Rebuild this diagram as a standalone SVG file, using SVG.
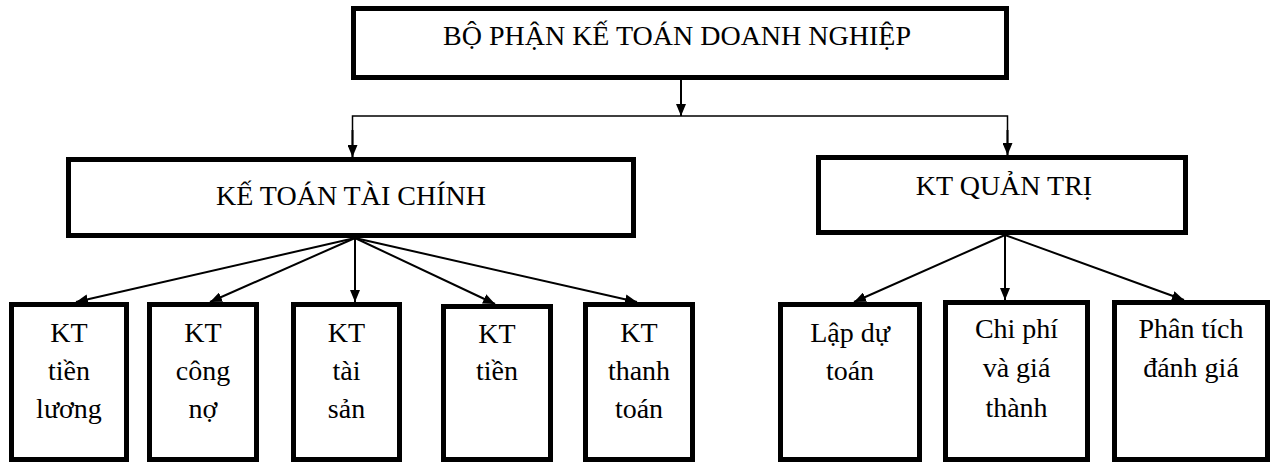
<svg xmlns="http://www.w3.org/2000/svg" width="1274" height="464" viewBox="0 0 1274 464">
<defs>
<style>
.box{fill:#fff;stroke:#000;stroke-width:5}
.t{font-family:"Liberation Serif","Times New Roman",serif;font-size:28px;fill:#000;text-anchor:middle}
.c{fill:none;stroke:#000;stroke-width:2}
.h{fill:none;stroke:#000;stroke-width:1.5}
</style>
<marker id="ah" viewBox="0 0 12 10" refX="12" refY="5" markerWidth="12" markerHeight="10" markerUnits="userSpaceOnUse" orient="auto">
<path d="M0,0 L12,5 L0,10 z" fill="#000"/>
</marker>
</defs>
<rect width="1274" height="464" fill="#fff"/>
<g id="connectors">
<line class="c" x1="681" y1="80" x2="681" y2="116" marker-end="url(#ah)"/>
<polyline class="h" points="352.5,157 352.5,116 1007.5,116 1007.5,155"/>
<line class="c" x1="352.5" y1="130" x2="352.5" y2="157" marker-end="url(#ah)"/>
<line class="c" x1="1007.5" y1="130" x2="1007.5" y2="155" marker-end="url(#ah)"/>
<line class="c" x1="355" y1="238" x2="76" y2="302" marker-end="url(#ah)"/>
<line class="c" x1="355" y1="238" x2="210" y2="302" marker-end="url(#ah)"/>
<line class="c" x1="355" y1="238" x2="355" y2="302" marker-end="url(#ah)"/>
<line class="c" x1="355" y1="238" x2="495" y2="304" marker-end="url(#ah)"/>
<line class="c" x1="355" y1="238" x2="637" y2="302" marker-end="url(#ah)"/>
<line class="c" x1="1005" y1="235" x2="854" y2="302" marker-end="url(#ah)"/>
<line class="c" x1="1005" y1="235" x2="1005" y2="300" marker-end="url(#ah)"/>
<line class="c" x1="1005" y1="235" x2="1184" y2="300" marker-end="url(#ah)"/>
</g>
<g id="n-top">
<rect class="box" x="353.5" y="8.5" width="653" height="69"/>
<text class="t" x="677" y="45">BỘ PHẬN KẾ TOÁN DOANH NGHIỆP</text>
</g>
<g id="n-kttc">
<rect class="box" x="68.5" y="159.5" width="565" height="76"/>
<text class="t" x="351" y="205">KẾ TOÁN TÀI CHÍNH</text>
</g>
<g id="n-ktqt">
<rect class="box" x="818.5" y="157.5" width="367" height="75"/>
<text class="t" x="1004" y="195">KT QUẢN TRỊ</text>
</g>
<g id="n-luong">
<rect class="box" x="11.5" y="304.5" width="115" height="155"/>
<text class="t" x="69" y="342">KT</text>
<text class="t" x="69" y="380">tiền</text>
<text class="t" x="69" y="418">lương</text>
</g>
<g id="n-congno">
<rect class="box" x="149.5" y="304.5" width="107" height="155"/>
<text class="t" x="203" y="342">KT</text>
<text class="t" x="203" y="380">công</text>
<text class="t" x="203" y="418">nợ</text>
</g>
<g id="n-taisan">
<rect class="box" x="293.5" y="304.5" width="106" height="155"/>
<text class="t" x="346.5" y="342">KT</text>
<text class="t" x="346.5" y="380">tài</text>
<text class="t" x="346.5" y="418">sản</text>
</g>
<g id="n-tien">
<rect class="box" x="443.5" y="306.5" width="107" height="153"/>
<text class="t" x="497" y="343">KT</text>
<text class="t" x="497" y="380">tiền</text>
</g>
<g id="n-thanhtoan">
<rect class="box" x="585.5" y="304.5" width="107" height="155"/>
<text class="t" x="639" y="342">KT</text>
<text class="t" x="639" y="380">thanh</text>
<text class="t" x="639" y="418">toán</text>
</g>
<g id="n-lapdutoan">
<rect class="box" x="780.5" y="304.5" width="139" height="155"/>
<text class="t" x="850" y="342">Lập dự</text>
<text class="t" x="850" y="380">toán</text>
</g>
<g id="n-chiphi">
<rect class="box" x="945.5" y="302.5" width="142" height="157"/>
<text class="t" x="1016.5" y="338">Chi phí</text>
<text class="t" x="1016.5" y="377">và giá</text>
<text class="t" x="1016.5" y="417">thành</text>
</g>
<g id="n-phantich">
<rect class="box" x="1114.5" y="302.5" width="153" height="157"/>
<text class="t" x="1191" y="338">Phân tích</text>
<text class="t" x="1191" y="377">đánh giá</text>
</g>
</svg>
